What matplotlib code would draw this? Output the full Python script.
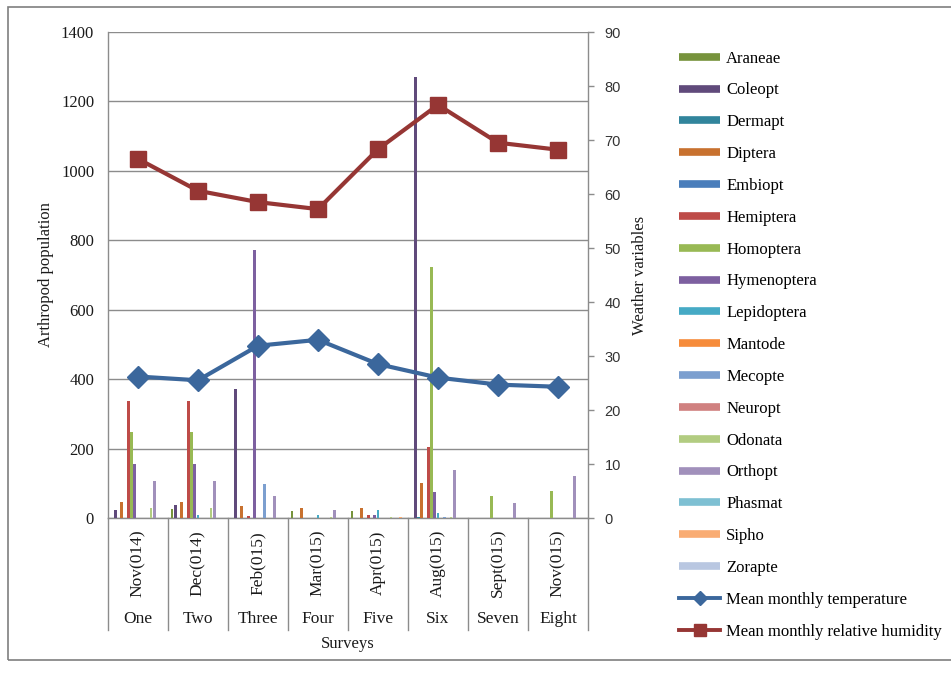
import matplotlib
matplotlib.use("Agg")
import matplotlib.pyplot as plt
from matplotlib.lines import Line2D
from matplotlib.patches import Rectangle
import numpy as np

# ---- data ----
surveys = ["One", "Two", "Three", "Four", "Five", "Six", "Seven", "Eight"]
months = ["Nov(014)", "Dec(014)", "Feb(015)", "Mar(015)", "Apr(015)",
          "Aug(015)", "Sept(015)", "Nov(015)"]

orders = ["Araneae", "Coleopt", "Dermapt", "Diptera", "Embiopt", "Hemiptera",
          "Homoptera", "Hymenoptera", "Lepidoptera", "Mantode", "Mecopte",
          "Neuropt", "Odonata", "Orthopt", "Phasmat", "Sipho", "Zorapte"]

araneae     = [0, 27, 0, 20, 20, 0, 0, 0]
coleopt     = [23, 37, 373, 0, 0, 1270, 0, 0]
dermapt     = [0, 0, 0, 0, 0, 4, 0, 0]
diptera     = [46, 46, 35, 28, 28, 100, 0, 0]
embiopt     = [0, 0, 0, 0, 0, 0, 0, 0]
hemiptera   = [338, 338, 5, 0, 9, 205, 0, 0]
homoptera   = [248, 248, 0, 0, 0, 722, 63, 77]
hymenoptera = [155, 155, 772, 0, 10, 76, 0, 0]
lepidoptera = [0, 8, 0, 10, 22, 13, 0, 0]
mantode     = [0, 0, 0, 0, 0, 0, 0, 0]
mecopte     = [0, 0, 97, 0, 0, 3, 0, 0]
neuropt     = [0, 0, 0, 0, 0, 0, 0, 0]
odonata     = [29, 29, 0, 3, 3, 3, 0, 0]
orthopt     = [107, 107, 63, 22, 0, 138, 43, 121]
phasmat     = [0, 0, 0, 0, 0, 0, 0, 0]
sipho       = [0, 0, 0, 0, 3, 0, 0, 0]
zorapte     = [0, 0, 0, 0, 0, 0, 0, 0]

counts = [araneae, coleopt, dermapt, diptera, embiopt, hemiptera, homoptera,
          hymenoptera, lepidoptera, mantode, mecopte, neuropt, odonata,
          orthopt, phasmat, sipho, zorapte]

temperature = [26.2, 25.5, 31.9, 33.0, 28.5, 26.0, 24.7, 24.3]
humidity = [66.5, 60.6, 58.5, 57.2, 68.3, 76.5, 69.5, 68.2]

colors = ["#77933C", "#604A7B", "#31859C", "#C8712F", "#4A7EBB", "#BE4B48",
          "#98B954", "#7D60A0", "#46AAC5", "#F68C3B", "#7C9FCF", "#D08180",
          "#B2CC81", "#A190BB", "#7EC0D3", "#F9AC73", "#B9C7E1"]
temp_color = "#3B679C"
hum_color = "#963634"

# ---- figure ----
W, H = 951, 675
fig = plt.figure(figsize=(W / 100, H / 100), dpi=100)
fig.patch.set_facecolor("white")

def fx(px):
    return px / W

def fy(py):
    return 1 - py / H

ax_l, ax_r, ax_t, ax_b = 108, 588, 32, 518
ax = fig.add_axes([fx(ax_l), fy(ax_b), fx(ax_r - ax_l), (ax_b - ax_t) / H])

serif = ["Liberation Serif", "DejaVu Serif"]
grid_col = "#8C8C8C"

n = len(orders)
step = 0.054
x = np.arange(len(surveys))
for i, (name, vals) in enumerate(zip(orders, counts)):
    ax.bar(x + (i - (n - 1) / 2) * step, vals, width=0.044,
           color=colors[i], label=name, zorder=3, linewidth=0)

ax.set_xlim(-0.5, len(surveys) - 0.5)
ax.set_ylim(0, 1400)
ax.set_yticks(np.arange(0, 1401, 200))
ax.set_xticks([])
ax.yaxis.grid(True, color=grid_col, linewidth=1.0, zorder=0)
ax.set_axisbelow(True)
for s in ["left", "bottom"]:
    ax.spines[s].set_color(grid_col)
    ax.spines[s].set_linewidth(1.0)
ax.spines["top"].set_visible(False)
ax.spines["right"].set_visible(False)
ax.tick_params(axis="y", length=0, pad=10, labelsize=12, labelcolor="#1a1a1a")
for lab in ax.get_yticklabels():
    lab.set_fontfamily(serif)

ax.set_ylabel("Arthropod population", fontfamily=serif, fontsize=12,
              labelpad=5, color="#1a1a1a")

# secondary axis for weather variables
ax2 = ax.twinx()
ax2.set_ylim(0, 90)
ax2.set_yticks(np.arange(0, 91, 10))
ax2.spines["right"].set_color(grid_col)
ax2.spines["right"].set_linewidth(1.0)
for s in ["left", "top", "bottom"]:
    ax2.spines[s].set_visible(False)
ax2.tick_params(axis="y", direction="out", length=4, width=1.0, color=grid_col,
                pad=8, labelsize=10.5, labelcolor="#333333")
for lab in ax2.get_yticklabels():
    lab.set_fontfamily(["Liberation Sans", "DejaVu Sans"])
ax2.set_ylabel("Weather variables", fontfamily=serif, fontsize=12,
               labelpad=8, color="#1a1a1a")

ax2.plot(x, temperature, color=temp_color, lw=3.0, marker="D", ms=11,
         zorder=5, label="Mean monthly temperature")
ax2.plot(x, humidity, color=hum_color, lw=3.0, marker="s", ms=12,
         zorder=5, label="Mean monthly relative humidity")

# multi-level category axis
tr = ax.get_xaxis_transform()
ax_h = ax_b - ax_t
for k in range(len(surveys) + 1):
    ax.add_line(Line2D([k - 0.5, k - 0.5], [0, -(630 - ax_b) / ax_h],
                       transform=tr, color=grid_col, lw=1.0, clip_on=False))
for k, (m, s) in enumerate(zip(months, surveys)):
    ax.text(k, -(563 - ax_b) / ax_h, m, transform=tr, rotation=90,
            ha="center", va="center", fontfamily=serif, fontsize=12.5,
            color="#1a1a1a")
    ax.text(k, -(619 - ax_b) / ax_h, s, transform=tr, ha="center",
            va="center", fontfamily=serif, fontsize=12.5, color="#1a1a1a")
ax.text(0.5, -(644 - ax_b) / ax_h, "Surveys", transform=ax.transAxes,
        ha="center", va="center", fontfamily=serif, fontsize=12,
        color="#1a1a1a")

# legend
handles = [Line2D([], [], color=c, lw=5.5, solid_capstyle="butt")
           for c in colors]
handles.append(Line2D([], [], color=temp_color, lw=2.8, marker="D", ms=7))
handles.append(Line2D([], [], color=hum_color, lw=2.8, marker="s", ms=8))
labels = orders + ["Mean monthly temperature", "Mean monthly relative humidity"]
leg = fig.legend(handles, labels, loc="upper left",
                 bbox_to_anchor=(fx(672), fy(44)), frameon=False,
                 prop={"family": serif, "size": 12}, handlelength=2.5,
                 handletextpad=0.35, labelspacing=0.95, borderaxespad=0)

# outer frame
fig.add_artist(Rectangle((fx(8), fy(660)), fx(960 - 8), (660 - 7) / H,
                         transform=fig.transFigure, fill=False,
                         edgecolor="#7F7F7F", lw=1.2))

fig.savefig("out.png", dpi=100, facecolor="white")
